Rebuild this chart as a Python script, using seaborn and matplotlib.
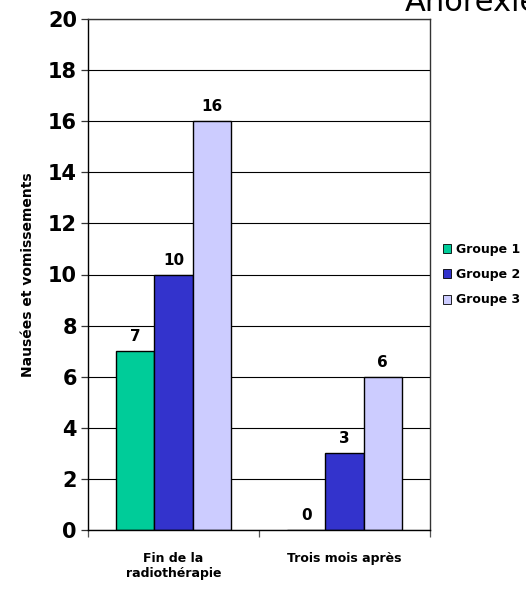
import matplotlib
matplotlib.use("Agg")
import matplotlib.pyplot as plt
import seaborn as sns
import pandas as pd

categories = ["Fin de la\nradiothérapie", "Trois mois après"]
groups = ["Groupe 1", "Groupe 2", "Groupe 3"]
groupe1 = [7, 0]
groupe2 = [10, 3]
groupe3 = [16, 6]
yticks = [0, 2, 4, 6, 8, 10, 12, 14, 16, 18, 20]
colors = ["#00CC99", "#3333CC", "#CCCCFF"]

rows = []
for g, vals in zip(groups, [groupe1, groupe2, groupe3]):
    for c, v in zip(categories, vals):
        rows.append({"cat": c, "grp": g, "val": v})
df = pd.DataFrame(rows)

sns.set_style("white")
plt.rcParams["font.family"] = ["DejaVu Sans"]
plt.rcParams["text.color"] = "black"
plt.rcParams["axes.labelcolor"] = "black"
plt.rcParams["xtick.color"] = "black"
plt.rcParams["ytick.color"] = "black"

fig = plt.figure(figsize=(5.26, 5.92), dpi=100)
ax = fig.add_axes([88 / 526, 1 - 530 / 592, (430 - 88) / 526, (530 - 19) / 592])

sns.barplot(data=df, x="cat", y="val", hue="grp", palette=colors,
            width=0.667, edgecolor="black", linewidth=1.0, ax=ax,
            legend=True, errorbar=None, saturation=1)

ax.set_ylim(0, 20)
ax.set_xlim(-0.5, 1.5)
ax.set_yticks(yticks)
ax.set_yticklabels([str(t) for t in yticks], fontsize=15, fontweight="bold")
ax.yaxis.grid(True, color="black", linewidth=0.8)
ax.set_axisbelow(True)
ax.set_xticks([0, 1])
ax.set_xticklabels(categories, fontsize=9, fontweight="bold")
ax.tick_params(axis="x", length=0, pad=16)
ax.tick_params(axis="y", length=5, width=0.9, color="#333333", direction="out", pad=3, left=True)

# category separators as minor ticks on the x axis
ax.set_xticks([-0.5, 0.5, 1.5], minor=True)
ax.tick_params(axis="x", which="minor", length=5, width=0.9, color="#555555", direction="out", bottom=True)

ax.set_xlabel("")
ax.set_ylabel("Nausées et vomissements", fontsize=10, fontweight="bold", labelpad=9)

for side in ["left", "bottom"]:
    ax.spines[side].set_color("black")
    ax.spines[side].set_linewidth(1.0)
for side in ["top", "right"]:
    ax.spines[side].set_color("#333333")
    ax.spines[side].set_linewidth(1.0)
    ax.spines[side].set_visible(True)

for cont in ax.containers:
    ax.bar_label(cont, labels=[f"{v:g}" for v in cont.datavalues], padding=5,
                 fontsize=11, fontweight="bold", color="black")

leg = ax.legend(loc="center left", bbox_to_anchor=(1.0, 0.5), frameon=False,
                prop={"weight": "bold", "size": 9},
                handlelength=0.7, handleheight=0.7, handletextpad=0.4,
                labelspacing=1.0, borderaxespad=0.6)
for t in leg.get_texts():
    t.set_color("black")
for h in leg.legend_handles:
    h.set_edgecolor("black")
    h.set_linewidth(0.6)

fig.text(405 / 526, 1 - 11 / 592, "Anorexie", fontsize=22, va="baseline", ha="left",
         color="black")

fig.savefig("out.png", dpi=100)
